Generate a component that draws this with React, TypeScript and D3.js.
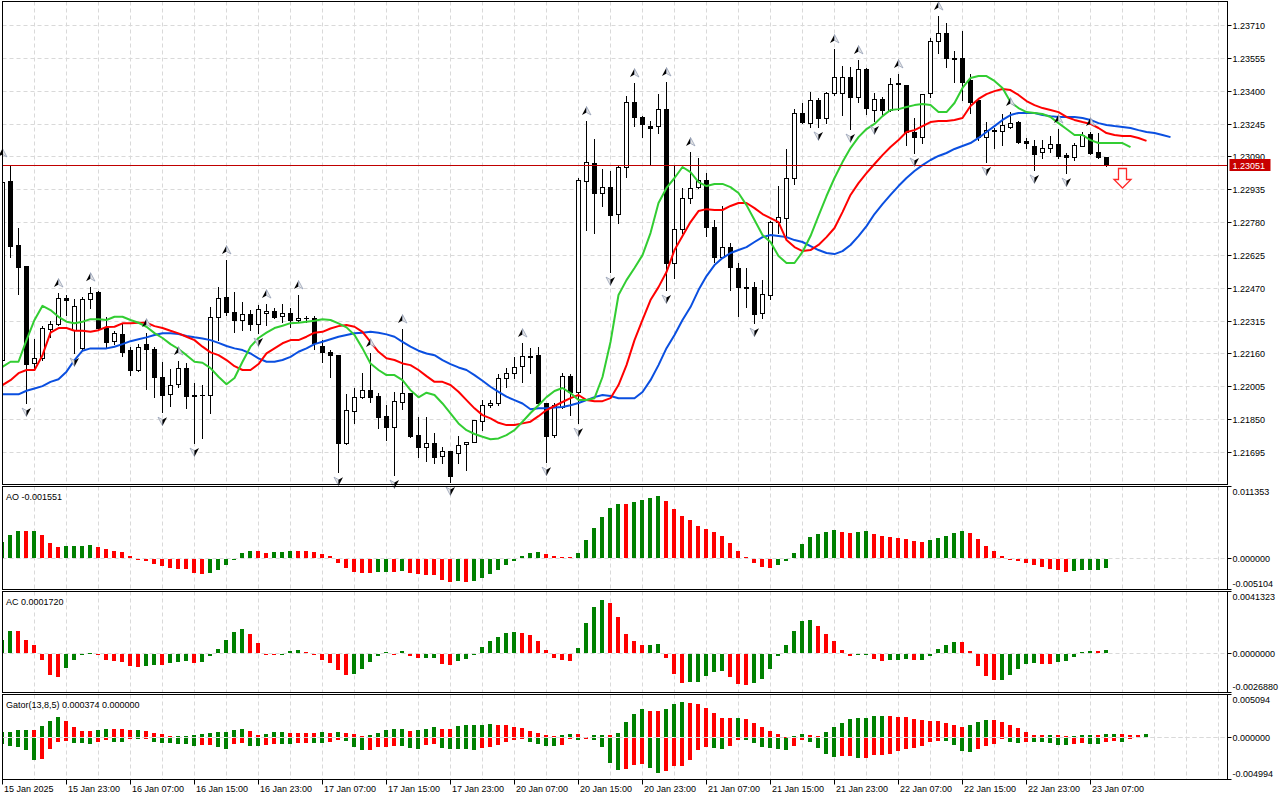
import { useEffect, useRef } from "react";
import * as d3 from "d3";

// EURUSD-style H1 chart, 15 Jan 15:00 .. 23 Jan 09:00, one bar per hour
const timeLabels = [
  "15 Jan 2025", "15 Jan 23:00", "16 Jan 07:00", "16 Jan 15:00", "16 Jan 23:00",
  "17 Jan 07:00", "17 Jan 15:00", "17 Jan 23:00", "20 Jan 07:00", "20 Jan 15:00",
  "20 Jan 23:00", "21 Jan 07:00", "21 Jan 15:00", "21 Jan 23:00", "22 Jan 07:00",
  "22 Jan 15:00", "22 Jan 23:00", "23 Jan 07:00",
];
const barsPerLabel = 8;
const barsPerGrid = 4;

const priceTicks = [
  1.2371, 1.23555, 1.234, 1.23245, 1.2309, 1.22935, 1.2278, 1.22625, 1.2247,
  1.22315, 1.2216, 1.22005, 1.2185, 1.21695,
];
const lastPrice = 1.23051;

const opens = [
  1.22129, 1.22974, 1.22672, 1.22572, 1.22115, 1.22138, 1.22275, 1.22299, 1.22421, 1.2227,
  1.22185, 1.22417, 1.2245, 1.2228, 1.22218, 1.22252, 1.22176, 1.22082, 1.22204, 1.22181,
  1.22049, 1.21968, 1.22015, 1.22091, 1.21964, 1.21964, 1.21964, 1.22332, 1.22426, 1.22355,
  1.22318, 1.22346, 1.22299, 1.22351, 1.2236, 1.22336, 1.22351, 1.22318, 1.22327, 1.22327,
  1.22195, 1.22167, 1.22152, 1.21737, 1.21888, 1.21954, 1.21987, 1.21959, 1.21864, 1.21813,
  1.21931, 1.21973, 1.21775, 1.21718, 1.21737, 1.21676, 1.21699, 1.2169, 1.21732, 1.21742,
  1.21841, 1.21916, 1.21926, 1.22044, 1.22067, 1.221, 1.22148, 1.22152, 1.21926, 1.21775,
  1.21907, 1.22053, 1.21978, 1.22974, 1.23059, 1.22917, 1.22945, 1.22818, 1.2304, 1.23347,
  1.23276, 1.23233, 1.23233, 1.23313, 1.22587, 1.22747, 1.22893, 1.22945, 1.22978, 1.22757,
  1.22615, 1.22662, 1.22563, 1.22473, 1.22473, 1.22351, 1.22436, 1.2278, 1.22799, 1.22988,
  1.23295, 1.23247, 1.23356, 1.23271, 1.23389, 1.23389, 1.23465, 1.2337, 1.23502, 1.23309,
  1.23361, 1.23309, 1.23436, 1.23427, 1.23205, 1.23181, 1.23389, 1.23634, 1.23672, 1.23554,
  1.23554, 1.2345, 1.23356, 1.23181, 1.2321, 1.2321, 1.23229, 1.23252, 1.23163, 1.23139,
  1.23111, 1.23129, 1.23148, 1.23096, 1.23087, 1.23139, 1.23196, 1.23111, 1.23087,
];
const highs = [
  1.23059, 1.23049, 1.22752, 1.22572, 1.22228, 1.22289, 1.22313, 1.22445, 1.22436, 1.22417,
  1.22426, 1.22473, 1.22455, 1.22332, 1.22266, 1.22303, 1.2219, 1.22204, 1.22256, 1.2219,
  1.22119, 1.22086, 1.22124, 1.22115, 1.2202, 1.22011, 1.22379, 1.22473, 1.22601, 1.2245,
  1.22403, 1.22365, 1.22388, 1.22393, 1.22374, 1.22393, 1.22374, 1.22436, 1.22336, 1.22336,
  1.22223, 1.22176, 1.22152, 1.21968, 1.21997, 1.22067, 1.22162, 1.21973, 1.21916, 1.21978,
  1.22275, 1.21973, 1.2186, 1.2186, 1.21784, 1.21718, 1.21699, 1.2177, 1.21742, 1.21846,
  1.2194, 1.2194, 1.22063, 1.22091, 1.22143, 1.22209, 1.22185, 1.2219, 1.21926, 1.21926,
  1.22067, 1.22063, 1.22988, 1.23257, 1.23172, 1.2303, 1.23021, 1.23045, 1.23375, 1.23436,
  1.2328, 1.23257, 1.23384, 1.23441, 1.23045, 1.22941, 1.23111, 1.23082, 1.23011, 1.2279,
  1.22856, 1.22681, 1.22587, 1.22563, 1.22497, 1.22506, 1.22785, 1.2295, 1.23125, 1.23313,
  1.23342, 1.23394, 1.23365, 1.23394, 1.23597, 1.23516, 1.23512, 1.23545, 1.23507, 1.23389,
  1.2337, 1.2346, 1.23479, 1.23427, 1.23271, 1.23384, 1.23649, 1.23752, 1.23719, 1.23587,
  1.23682, 1.23479, 1.23356, 1.23252, 1.23224, 1.2329, 1.23299, 1.23257, 1.23177, 1.23167,
  1.23167, 1.23186, 1.23219, 1.23106, 1.23153, 1.23205, 1.23205, 1.232, 1.23087,
];
const lows = [
  1.22119, 1.22615, 1.2244, 1.21926, 1.22082, 1.22129, 1.22237, 1.22294, 1.22341, 1.22162,
  1.22176, 1.22374, 1.2227, 1.22185, 1.22204, 1.22148, 1.22058, 1.22077, 1.21992, 1.21954,
  1.21883, 1.21912, 1.22001, 1.21902, 1.21737, 1.21761, 1.21879, 1.22223, 1.22341, 1.22261,
  1.2227, 1.2227, 1.22256, 1.22294, 1.22327, 1.22308, 1.22285, 1.22308, 1.22308, 1.22181,
  1.22119, 1.22049, 1.216, 1.21732, 1.21831, 1.21949, 1.21931, 1.21808, 1.21751, 1.21586,
  1.21897, 1.21765, 1.21671, 1.21652, 1.21643, 1.21643, 1.21553, 1.21643, 1.2161, 1.21742,
  1.21798, 1.21907, 1.21916, 1.22001, 1.22044, 1.22025, 1.22067, 1.21921, 1.21647, 1.21765,
  1.21902, 1.21869, 1.21831, 1.22742, 1.22728, 1.22856, 1.22544, 1.22775, 1.22993, 1.23233,
  1.23181, 1.23049, 1.232, 1.22459, 1.22516, 1.22728, 1.2287, 1.22941, 1.22714, 1.22591,
  1.2261, 1.22459, 1.22336, 1.22379, 1.22303, 1.22327, 1.22417, 1.22728, 1.22695, 1.2296,
  1.23247, 1.23229, 1.23229, 1.23247, 1.2338, 1.23285, 1.23219, 1.23347, 1.2329, 1.23257,
  1.23285, 1.23304, 1.23309, 1.23144, 1.23106, 1.23153, 1.2337, 1.23578, 1.23512, 1.23441,
  1.23356, 1.23295, 1.23167, 1.23063, 1.23129, 1.23144, 1.23224, 1.23153, 1.23129, 1.23026,
  1.23082, 1.23111, 1.23082, 1.23011, 1.23073, 1.23139, 1.23101, 1.23082, 1.23045,
];
const closes = [
  1.22969, 1.22667, 1.22568, 1.2211, 1.22138, 1.2228, 1.22299, 1.22421, 1.22412, 1.22384,
  1.22417, 1.22445, 1.2228, 1.22214, 1.22256, 1.22167, 1.22082, 1.2219, 1.22181, 1.22049,
  1.21964, 1.22011, 1.22091, 1.21959, 1.21959, 1.21966, 1.22332, 1.22421, 1.22355, 1.22318,
  1.22346, 1.22299, 1.2237, 1.2236, 1.22332, 1.22351, 1.22318, 1.22327, 1.22325, 1.22209,
  1.22167, 1.22152, 1.21737, 1.21893, 1.21954, 1.21987, 1.21954, 1.2186, 1.21813, 1.21935,
  1.21973, 1.2177, 1.21718, 1.21737, 1.21671, 1.21699, 1.21581, 1.21728, 1.21742, 1.21846,
  1.21916, 1.21926, 1.22044, 1.22067, 1.22096, 1.22148, 1.22143, 1.21926, 1.2177, 1.21916,
  1.22053, 1.21978, 1.22978, 1.23063, 1.22917, 1.22945, 1.22813, 1.2304, 1.23347, 1.23276,
  1.23243, 1.23224, 1.23313, 1.22587, 1.22747, 1.22893, 1.22941, 1.22978, 1.22757, 1.22615,
  1.22662, 1.22568, 1.22473, 1.22471, 1.22346, 1.2244, 1.2278, 1.22804, 1.22988, 1.23295,
  1.23252, 1.23356, 1.23271, 1.23389, 1.23465, 1.23465, 1.2337, 1.23502, 1.23318, 1.23361,
  1.23309, 1.23431, 1.23431, 1.23205, 1.23181, 1.23384, 1.23634, 1.23672, 1.23554, 1.23549,
  1.23441, 1.23347, 1.23181, 1.23214, 1.23214, 1.23238, 1.23247, 1.23158, 1.23153, 1.23101,
  1.23129, 1.23148, 1.23092, 1.23087, 1.23144, 1.23191, 1.23106, 1.23087, 1.23051,
];

// Alligator(13,8,5): already shifted, so they run past the last bar
const jaw = [
  1.21967, 1.21967, 1.21967, 1.21984, 1.21995, 1.22006, 1.22026, 1.22038, 1.22074, 1.22129,
  1.22173, 1.22184, 1.22184, 1.22184, 1.22192, 1.22204, 1.22218, 1.22227, 1.22236, 1.22247,
  1.22255, 1.22255, 1.22252, 1.22242, 1.22236, 1.22231, 1.22223, 1.2221, 1.22195, 1.22184,
  1.22176, 1.2216, 1.22137, 1.22121, 1.22121, 1.22129, 1.22144, 1.22168, 1.22184, 1.22204,
  1.22215, 1.22227, 1.22239, 1.22247, 1.22255, 1.22258, 1.22262, 1.22258, 1.2225, 1.22239,
  1.22215, 1.22192, 1.22173, 1.2216, 1.22152, 1.22129, 1.2211, 1.22094, 1.22082, 1.22058,
  1.22031, 1.22003, 1.21979, 1.21956, 1.2194, 1.21924, 1.21897, 1.21902, 1.21902, 1.21905,
  1.21907, 1.21916, 1.21926, 1.2194, 1.21954, 1.21964, 1.21959, 1.21949, 1.21949, 1.21949,
  1.21978, 1.22034, 1.22105, 1.22185, 1.22247, 1.22318, 1.22379, 1.22459, 1.22525, 1.22577,
  1.2261, 1.22634, 1.22648, 1.22662, 1.22686, 1.22709, 1.22719, 1.22714, 1.22709, 1.22695,
  1.22686, 1.22667, 1.22648, 1.22634, 1.22629, 1.22643, 1.22672, 1.22714, 1.22761, 1.22818,
  1.22865, 1.22908, 1.2295, 1.22988, 1.23021, 1.23049, 1.23073, 1.23092, 1.23106, 1.23125,
  1.23139, 1.23153, 1.23177, 1.23205, 1.23233, 1.23262, 1.23285, 1.23295, 1.23295, 1.23295,
  1.23285, 1.2328, 1.23276, 1.23276, 1.23276, 1.23271, 1.23262, 1.23247, 1.23238, 1.23233,
  1.23229, 1.23224, 1.23214, 1.23205, 1.232, 1.23191, 1.23181,
];
const teeth = [
  1.22011, 1.22034, 1.22067, 1.22082, 1.22082, 1.22152, 1.22258, 1.2228, 1.2228, 1.22267,
  1.22267, 1.22262, 1.2227, 1.22285, 1.22286, 1.22302, 1.22302, 1.22305, 1.22305, 1.22289,
  1.2228, 1.22267, 1.22255, 1.22239, 1.22223, 1.22192, 1.22165, 1.22152, 1.22129, 1.221,
  1.22082, 1.22082, 1.2211, 1.2216, 1.22184, 1.22208, 1.22223, 1.22223, 1.22239, 1.22258,
  1.22262, 1.22278, 1.22289, 1.22294, 1.22286, 1.22262, 1.22215, 1.22168, 1.22137, 1.22129,
  1.22113, 1.22105, 1.22082, 1.22053, 1.22026, 1.22026, 1.22011, 1.21979, 1.2194, 1.21901,
  1.21869, 1.21854, 1.21833, 1.21822, 1.21822, 1.2183, 1.21838, 1.21864, 1.21893, 1.21912,
  1.21931, 1.21949, 1.21964, 1.2194, 1.21935, 1.21935, 1.21949, 1.22011, 1.22105, 1.22223,
  1.22318, 1.22412, 1.22473, 1.22544, 1.22648, 1.22714, 1.2278, 1.22832, 1.22841, 1.22837,
  1.22837, 1.22856, 1.2287, 1.2287, 1.22846, 1.22818, 1.22799, 1.2278, 1.22695, 1.22662,
  1.22643, 1.22648, 1.22672, 1.22709, 1.22752, 1.22827, 1.22908, 1.22964, 1.23011, 1.23054,
  1.23096, 1.23134, 1.23167, 1.23205, 1.23214, 1.23233, 1.23252, 1.23257, 1.23257, 1.23262,
  1.23271, 1.23328, 1.23361, 1.23384, 1.23398, 1.23408, 1.23403, 1.2338, 1.23351, 1.23332,
  1.23318, 1.23309, 1.23299, 1.23276, 1.23262, 1.23252, 1.23243, 1.23224, 1.232, 1.23191,
  1.23186, 1.23186, 1.23177, 1.23163,
];
const lips = [
  1.22097, 1.22121, 1.22121, 1.22223, 1.22318, 1.22385, 1.22365, 1.22333, 1.2231, 1.22303,
  1.2231, 1.22322, 1.22322, 1.22318, 1.22333, 1.22333, 1.22318, 1.22305, 1.22286, 1.22256,
  1.22233, 1.22204, 1.22181, 1.22152, 1.22121, 1.22116, 1.22091, 1.2205, 1.22015, 1.22044,
  1.22121, 1.22192, 1.22233, 1.22258, 1.2228, 1.22291, 1.22303, 1.22305, 1.2231, 1.22314,
  1.22321, 1.22318, 1.22302, 1.22283, 1.22247, 1.22184, 1.22113, 1.22082, 1.22058, 1.22058,
  1.22034, 1.21987, 1.21953, 1.21975, 1.21964, 1.21924, 1.21877, 1.2183, 1.21798, 1.2178,
  1.21767, 1.21755, 1.21759, 1.21775, 1.21798, 1.21838, 1.21879, 1.21916, 1.21954, 1.21983,
  1.21997, 1.21973, 1.2194, 1.2194, 1.21949, 1.22049, 1.22214, 1.22436, 1.22506, 1.22563,
  1.22624, 1.22728, 1.2287, 1.22941, 1.22988, 1.2304, 1.23016, 1.22969, 1.2295, 1.2296,
  1.2296, 1.22945, 1.22917, 1.2286, 1.2279, 1.22719, 1.22686, 1.2262, 1.22587, 1.22587,
  1.22639, 1.22714, 1.22809, 1.22903, 1.22988, 1.23063, 1.23129, 1.23181, 1.23219, 1.23243,
  1.2328, 1.23309, 1.23313, 1.23323, 1.23332, 1.23337, 1.23332, 1.23299, 1.23299, 1.23342,
  1.23413, 1.2346, 1.23469, 1.23469, 1.23446, 1.23413, 1.23347, 1.23318, 1.23299, 1.23295,
  1.2329, 1.23276, 1.23247, 1.23219, 1.23191, 1.23191, 1.23167, 1.23153, 1.23153, 1.23153,
  1.23153, 1.23134,
];

const fractalUp = [0, 7, 11, 18, 22, 28, 33, 37, 46, 50, 65, 73, 79, 83, 86, 104, 107, 112, 117, 126, 132, 136];
const fractalDown = [3, 9, 20, 24, 32, 42, 49, 56, 68, 72, 76, 83, 94, 102, 106, 109, 114, 123, 129, 133];

const signalBar = 140;
const signalPrice = 1.23035;

const ao = [
  0.002608, 0.0037, 0.004352, 0.004303, 0.00434, 0.0037, 0.002396, 0.001744, 0.001907, 0.00194,
  0.001956, 0.001989, 0.001744, 0.001418, 0.001092, 0.000929, 0.000228, -0.000163, -0.000375, -0.000815,
  -0.00119, -0.001516, -0.001728, -0.00176, -0.002282, -0.002494, -0.002282, -0.001842, -0.000978, -0.000163,
  0.000815, 0.001092, 0.00106, 0.000815, 0.000848, 0.000978, 0.001092, 0.001076, 0.00106, 0.000978,
  0.000603, 0.000228, -0.000652, -0.001516, -0.002168, -0.002282, -0.002298, -0.002168, -0.002135, -0.002168,
  -0.002005, -0.002282, -0.002445, -0.002657, -0.002673, -0.003472, -0.003798, -0.003635, -0.003798, -0.003635,
  -0.003146, -0.002494, -0.001842, -0.001027, -0.000326, 0.000277, 0.000717, 0.000929, 0.000603, 0.000277,
  0.000114, 0.000033, 0.000766, 0.002885, 0.004841, 0.006634, 0.008101, 0.008753, 0.008721, 0.009128,
  0.009405, 0.009731, 0.010057, 0.009242, 0.007938, 0.006797, 0.006145, 0.005167, 0.004678, 0.004189,
  0.003537, 0.002396, 0.001092, 0.000163, -0.000652, -0.001304, -0.001483, -0.000978, -0.000326, 0.000766,
  0.002233, 0.003374, 0.003863, 0.004189, 0.004515, 0.004189, 0.004026, 0.004189, 0.004352, 0.003863,
  0.003537, 0.003374, 0.003211, 0.003048, 0.002722, 0.002559, 0.002885, 0.003211, 0.003537, 0.004026,
  0.004352, 0.004026, 0.003048, 0.001907, 0.001092, 0.000277, -0.000033, -0.000326, -0.000701, -0.001027,
  -0.001353, -0.001679, -0.001842, -0.002168, -0.002005, -0.001842, -0.00181, -0.001793, -0.001551,
];
const aoRange = [-0.005104, 0.011353];

const ac = [
  0.000905, 0.001531, 0.001517, 0.000905, 0.000557, -0.000418, -0.001462, -0.001601, -0.000954, -0.000418,
  -0.000049, 0.000021, -0.00007, -0.000418, -0.000487, -0.000557, -0.000835, -0.000905, -0.000835, -0.000766,
  -0.000773, -0.000626, -0.000557, -0.000487, -0.000626, -0.000557, -0.000139, 0.000278, 0.000905, 0.001462,
  0.00167, 0.001322, 0.000696, -0.00007, -0.000077, -0.000049, 0.000139, 0.000188, 0.000049, -0.00007,
  -0.000418, -0.000626, -0.001114, -0.001462, -0.001392, -0.001023, -0.000557, -0.000139, 0.00007, -0.00007,
  0.000139, -0.000139, -0.000278, -0.000271, -0.000264, -0.000696, -0.000766, -0.000487, -0.000348, -0.00007,
  0.000418, 0.000835, 0.001114, 0.001392, 0.001462, 0.001392, 0.001253, 0.000835, 0.000209, -0.000278,
  -0.000418, -0.000487, 0.000348, 0.002088, 0.003202, 0.003619, 0.00341, 0.002506, 0.001322, 0.000835,
  0.000557, 0.000564, 0.000626, -0.000278, -0.001392, -0.002018, -0.001949, -0.001942, -0.001531, -0.001253,
  -0.001183, -0.001601, -0.002088, -0.002158, -0.002018, -0.00174, -0.001044, -0.000118, 0.000557, 0.001531,
  0.002227, 0.002297, 0.001879, 0.001322, 0.000835, 0.000209, -0.000139, -0.000049, -0.000021, -0.000348,
  -0.000487, -0.000432, -0.000418, -0.000348, -0.000418, -0.000411, -0.000139, 0.000278, 0.000557, 0.000766,
  0.000759, 0.000139, -0.000835, -0.001531, -0.00181, -0.001803, -0.001462, -0.001044, -0.000696, -0.000626,
  -0.000696, -0.000703, -0.000557, -0.000487, -0.000209, 0.00007, 0.000153, 0.000139, 0.000172,
];
const acRange = [-0.002688, 0.0041323];

// Gator: upper = |jaw - teeth|, lower = -|teeth - lips|
const gatorUpper = [
  0.000608, 0.000693, 0.000887, 0.000911, 0.000899, 0.001337, 0.001944, 0.00243, 0.001944, 0.001215,
  0.000765, 0.000753, 0.000887, 0.001008, 0.000996, 0.000984, 0.000875, 0.000899, 0.000765, 0.000522,
  0.000401, 0.000158, 0.000182, 0.000194, 0.000243, 0.000401, 0.000522, 0.000644, 0.000656, 0.000887,
  0.001008, 0.000765, 0.000279, 0.000401, 0.000644, 0.000656, 0.000522, 0.00051, 0.000498, 0.000486,
  0.000644, 0.000522, 0.000644, 0.000522, 0.000401, 0.000158, 0.000243, 0.000522, 0.000887, 0.000972,
  0.001008, 0.000765, 0.000887, 0.001008, 0.001251, 0.001008, 0.000996, 0.001373, 0.001494, 0.001507,
  0.001519, 0.001616, 0.001494, 0.001482, 0.001251, 0.00113, 0.000765, 0.000522, 0.000279, 0.000122,
  0.000279, 0.000401, 0.000389, 0.000036, 0.000279, 0.000292, 0.000243, 0.000522, 0.001859, 0.002831,
  0.003438, 0.003195, 0.003183, 0.003438, 0.004046, 0.004289, 0.004167, 0.004046, 0.00356, 0.002952,
  0.002345, 0.002333, 0.002357, 0.002223, 0.001737, 0.001251, 0.000765, 0.000401, 0.000036, 0.000158,
  0.000401, 0.000279, 0.000158, 0.000644, 0.001251, 0.001737, 0.002223, 0.002345, 0.002357, 0.002588,
  0.0026, 0.002588, 0.002466, 0.002454, 0.002223, 0.002102, 0.00198, 0.001968, 0.001737, 0.001494,
  0.001251, 0.001494, 0.001859, 0.002102, 0.00209, 0.001859, 0.001494, 0.00113, 0.000644, 0.000279,
  0.000267, 0.000279, 0.000267, 0.000158, 0.00017, 0.000279, 0.000292, 0.000279, 0.000401, 0.000413,
  0.000401, 0.000279, 0.000267, 0.000374,
];
const gatorLower = [
  -0.000729, -0.000936, -0.000972, -0.001337, -0.002552, -0.00243, -0.001215, -0.000486, -0.000328, -0.000522,
  -0.000535, -0.000644, -0.000401, -0.000243, -0.000401, -0.000413, -0.000061, -0.000122, -0.000097, -0.000401,
  -0.000522, -0.000535, -0.000644, -0.000656, -0.000887, -0.000765, -0.000753, -0.001008, -0.001251, -0.000644,
  -0.000522, -0.000887, -0.000899, -0.000765, -0.000644, -0.000656, -0.000668, -0.000522, -0.00051, -0.000522,
  -0.000535, -0.000401, -0.000158, -0.000328, -0.001008, -0.001373, -0.001361, -0.001008, -0.000996, -0.000936,
  -0.000948, -0.00113, -0.001251, -0.000765, -0.000644, -0.00113, -0.001251, -0.001264, -0.001276, -0.001373,
  -0.00113, -0.001008, -0.000765, -0.000401, -0.000207, -0.000122, -0.000401, -0.000644, -0.000887, -0.000899,
  -0.000765, -0.000122, -0.000207, -0.000085, -0.000207, -0.001008, -0.002916, -0.003767, -0.003645, -0.003159,
  -0.003038, -0.00356, -0.004167, -0.003924, -0.003317, -0.003305, -0.002588, -0.001373, -0.001008, -0.00113,
  -0.001251, -0.000887, -0.000207, -0.000219, -0.000522, -0.001008, -0.00113, -0.001251, -0.001373, -0.000887,
  -0.000158, -0.000401, -0.00113, -0.001859, -0.002223, -0.002102, -0.00209, -0.002345, -0.002333, -0.00198,
  -0.001968, -0.001859, -0.001494, -0.001251, -0.00113, -0.000887, -0.000401, -0.000279, -0.000292, -0.000765,
  -0.001494, -0.001616, -0.001251, -0.000887, -0.000644, -0.000122, -0.000401, -0.000522, -0.000401, -0.000413,
  -0.000425, -0.000522, -0.000765, -0.000778, -0.000644, -0.000522, -0.000644, -0.000656, -0.000401, -0.000279,
  -0.000401, -0.000122,
];
const gatorRange = [-0.004994, 0.005094];

const FONT = "'Liberation Sans', Arial, sans-serif";
const FONT_SIZE = 9;
const GREEN = "#008000";
const RED = "#ff0000";
const GRID = "#d9d9d9";

const LEFT = 2.5;
const RIGHT = 1227.5;
const panels = {
  main: { top: 1.5, bottom: 484.5 },
  ao: { top: 486.5, bottom: 589.5 },
  ac: { top: 591.5, bottom: 692.5 },
  gator: { top: 694.5, bottom: 779.5 },
};

type Sel = d3.Selection<SVGGElement, unknown, null, undefined>;

// green when rising vs previous bar, red when falling, unchanged keeps colour
function trendColors(values: number[], byMagnitude = false) {
  const out: string[] = [];
  values.forEach((v, i) => {
    if (i === 0) return out.push(GREEN);
    const a = byMagnitude ? Math.abs(v) : v;
    const b = byMagnitude ? Math.abs(values[i - 1]) : values[i - 1];
    out.push(a > b ? GREEN : a < b ? RED : out[i - 1]);
  });
  return out;
}

function draw(svgEl: SVGSVGElement) {
  const svg = d3.select(svgEl);
  svg.selectAll("*").remove();
  svg.append("rect").attr("width", 1280).attr("height", 800).attr("fill", "#fff");

  const x = d3.scaleLinear().domain([0, closes.length - 1]).range([2.5, 2.5 + 8 * (closes.length - 1)]);
  const y = d3
    .scaleLinear()
    .domain([priceTicks[priceTicks.length - 1], priceTicks[0]])
    .range([452, 25]);
  const aoY = d3.scaleLinear().domain(aoRange).range([589, 488]);
  const acY = d3.scaleLinear().domain(acRange).range([692, 593]);
  const gY = d3.scaleLinear().domain(gatorRange).range([779, 695]);

  const defs = svg.append("defs");
  Object.entries(panels).forEach(([name, p]) => {
    defs
      .append("clipPath")
      .attr("id", `clip-${name}`)
      .append("rect")
      .attr("x", LEFT + 0.5)
      .attr("y", p.top + 0.5)
      .attr("width", RIGHT - LEFT - 1)
      .attr("height", p.bottom - p.top - 1);
  });

  const layer = (name: string): Sel =>
    svg.append("g").attr("clip-path", `url(#clip-${name})`) as unknown as Sel;

  // vertical grid every 4 bars, through all panels
  const gridBars = d3.range(barsPerGrid, 200, barsPerGrid).filter((b) => x(b) < RIGHT - 1);
  Object.entries(panels).forEach(([name, p]) => {
    const g = layer(name);
    g.selectAll("line.vg")
      .data(gridBars)
      .join("line")
      .attr("x1", (b) => x(b))
      .attr("x2", (b) => x(b))
      .attr("y1", p.top)
      .attr("y2", p.bottom)
      .attr("stroke", GRID)
      .attr("stroke-dasharray", "4,3");
  });

  // ---------- main panel ----------
  const main = layer("main");
  main
    .selectAll("line.hg")
    .data(priceTicks)
    .join("line")
    .attr("x1", LEFT)
    .attr("x2", RIGHT)
    .attr("y1", (d) => Math.round(y(d)) + 0.5)
    .attr("y2", (d) => Math.round(y(d)) + 0.5)
    .attr("stroke", GRID)
    .attr("stroke-dasharray", "4,3");

  const bars = closes.map((c, i) => ({ i, o: opens[i], h: highs[i], l: lows[i], c }));
  const candles = main.append("g");
  bars.forEach((b) => {
    const cx = x(b.i);
    const yO = Math.round(y(b.o));
    const yC = Math.round(y(b.c));
    const yH = Math.round(y(b.h));
    const yL = Math.round(y(b.l));
    const top = Math.min(yO, yC);
    const bot = Math.max(yO, yC);
    candles
      .append("line")
      .attr("x1", cx)
      .attr("x2", cx)
      .attr("y1", yH)
      .attr("y2", yL + 1)
      .attr("stroke", "#000");
    if (bot - top < 1) {
      candles
        .append("line")
        .attr("x1", cx - 2.5)
        .attr("x2", cx + 2.5)
        .attr("y1", top + 0.5)
        .attr("y2", top + 0.5)
        .attr("stroke", "#000");
    } else if (b.c < b.o) {
      candles
        .append("rect")
        .attr("x", cx - 2.5)
        .attr("y", top)
        .attr("width", 5)
        .attr("height", bot - top + 1)
        .attr("fill", "#000");
    } else {
      candles
        .append("rect")
        .attr("x", cx - 2)
        .attr("y", top + 0.5)
        .attr("width", 4)
        .attr("height", bot - top)
        .attr("fill", "#fff")
        .attr("stroke", "#000");
    }
  });

  const line = d3
    .line<number>()
    .x((_, i) => x(i))
    .y((d) => y(d));
  [
    { data: jaw, color: "#0a4fe0" },
    { data: teeth, color: "#ff0000" },
    { data: lips, color: "#32cd32" },
  ].forEach((s) => {
    main
      .append("path")
      .attr("d", line(s.data))
      .attr("fill", "none")
      .attr("stroke", s.color)
      .attr("stroke-width", 2)
      .attr("stroke-linejoin", "round");
  });

  // bid line
  const yLast = Math.round(y(lastPrice)) + 0.5;
  main
    .append("line")
    .attr("x1", LEFT)
    .attr("x2", RIGHT)
    .attr("y1", yLast)
    .attr("y2", yLast)
    .attr("stroke", "#c00000");

  // fractal markers
  const fr = svg.append("g");
  fractalUp.forEach((i) => {
    const cx = x(i);
    const cy = y(highs[i]) - 10;
    fr.append("path")
      .attr("d", `M${cx},${cy - 4.5}L${cx - 4.5},${cy + 4}L${cx},${cy + 1.5}Z`)
      .attr("fill", "#000");
    fr.append("path")
      .attr("d", `M${cx},${cy - 4.5}L${cx},${cy + 1.5}L${cx + 4.5},${cy + 4}Z`)
      .attr("fill", "#e4e4e4")
      .attr("stroke", "#8c98b0")
      .attr("stroke-width", 0.7);
  });
  fractalDown.forEach((i) => {
    const cx = x(i);
    const cy = y(lows[i]) + 9;
    fr.append("path")
      .attr("d", `M${cx},${cy + 4.5}L${cx - 4.5},${cy - 4}L${cx},${cy - 1.5}Z`)
      .attr("fill", "#e4e4e4")
      .attr("stroke", "#8c98b0")
      .attr("stroke-width", 0.7);
    fr.append("path")
      .attr("d", `M${cx},${cy + 4.5}L${cx},${cy - 1.5}L${cx + 4.5},${cy - 4}Z`)
      .attr("fill", "#000");
  });

  // sell signal arrow
  {
    const cx = x(signalBar);
    const t = Math.round(y(signalPrice)) + 0.5;
    svg
      .append("path")
      .attr(
        "d",
        `M${cx - 4},${t}L${cx + 4},${t}L${cx + 4},${t + 11}L${cx + 8.5},${t + 11}L${cx},${t + 19.5}L${cx - 8.5},${t + 11}L${cx - 4},${t + 11}Z`
      )
      .attr("fill", "#fff")
      .attr("stroke", "#ff2a2a")
      .attr("stroke-width", 1.3)
      .attr("stroke-linejoin", "miter");
  }

  // ---------- sub panels ----------
  const hist = (
    g: Sel,
    values: number[],
    scale: d3.ScaleLinear<number, number>,
    colors: string[]
  ) => {
    const y0 = Math.round(scale(0));
    g.append("line")
      .attr("x1", LEFT)
      .attr("x2", RIGHT)
      .attr("y1", y0 + 0.5)
      .attr("y2", y0 + 0.5)
      .attr("stroke", GRID)
      .attr("stroke-dasharray", "4,3");
    g.selectAll(null)
      .data(values)
      .join("rect")
      .attr("x", (_, i) => x(i) - 2.5)
      .attr("width", 4)
      .attr("y", (d) => (d >= 0 ? Math.min(Math.round(scale(d)), y0) : y0 + 1))
      .attr("height", (d) => Math.max(1, Math.abs(Math.round(scale(d)) - y0)))
      .attr("fill", (_, i) => colors[i]);
  };

  hist(layer("ao"), ao, aoY, trendColors(ao));
  hist(layer("ac"), ac, acY, trendColors(ac));
  const gl = layer("gator");
  hist(gl, gatorUpper, gY, trendColors(gatorUpper));
  hist(gl, gatorLower, gY, trendColors(gatorLower, true));

  // ---------- frames ----------
  Object.values(panels).forEach((p) => {
    svg
      .append("rect")
      .attr("x", LEFT)
      .attr("y", p.top)
      .attr("width", RIGHT - LEFT)
      .attr("height", p.bottom - p.top)
      .attr("fill", "none")
      .attr("stroke", "#000");
  });

  const text = (tx: number, ty: number, s: string, fill = "#000") =>
    svg
      .append("text")
      .attr("x", tx)
      .attr("y", ty)
      .attr("dominant-baseline", "central")
      .attr("font-family", FONT)
      .attr("font-size", FONT_SIZE)
      .attr("fill", fill)
      .text(s);

  // price axis
  priceTicks.forEach((p) => {
    const ty = Math.round(y(p)) + 0.5;
    svg.append("line").attr("x1", RIGHT).attr("x2", RIGHT + 4).attr("y1", ty).attr("y2", ty).attr("stroke", "#000");
    text(RIGHT + 5, ty, p.toFixed(5));
  });
  svg
    .append("rect")
    .attr("x", RIGHT + 2)
    .attr("y", yLast - 6.5)
    .attr("width", 41)
    .attr("height", 12)
    .attr("fill", "#c80000");
  text(RIGHT + 5, yLast, lastPrice.toFixed(5), "#fff");

  // sub panel axes and titles
  const subAxis = (
    p: { top: number; bottom: number },
    scale: d3.ScaleLinear<number, number>,
    range: number[],
    digits: number,
    title: string
  ) => {
    const y0 = Math.round(scale(0)) + 0.5;
    [p.top, y0, p.bottom].forEach((ty) =>
      svg.append("line").attr("x1", RIGHT).attr("x2", RIGHT + 4).attr("y1", ty).attr("y2", ty).attr("stroke", "#000")
    );
    text(RIGHT + 5, p.top + 5.5, range[1].toFixed(digits));
    text(RIGHT + 5, y0, (0).toFixed(digits));
    text(RIGHT + 5, p.bottom - 5.5, range[0].toFixed(digits));
    text(6, p.top + 10, title);
  };
  subAxis(panels.ao, aoY, aoRange, 6, `AO ${ao[ao.length - 1].toFixed(6)}`);
  subAxis(panels.ac, acY, acRange, 7, `AC ${ac[ac.length - 1].toFixed(7)}`);
  const gLowerLast = gatorLower.length === gatorUpper.length ? gatorLower[gatorLower.length - 1] : 0;
  subAxis(
    panels.gator,
    gY,
    gatorRange,
    6,
    `Gator(13,8,5) ${gatorUpper[gatorUpper.length - 1].toFixed(6)} ${Math.abs(gLowerLast).toFixed(6)}`
  );

  // time axis
  timeLabels.forEach((label, k) => {
    const tx = x(k * barsPerLabel);
    const b = panels.gator.bottom;
    svg.append("line").attr("x1", tx).attr("x2", tx).attr("y1", b).attr("y2", b + 5).attr("stroke", "#000");
    text(tx + 1.5, b + 9, label);
  });
}

export default function App() {
  const svgRef = useRef<SVGSVGElement | null>(null);

  useEffect(() => {
    if (svgRef.current) draw(svgRef.current);
  }, []);

  return (
    <svg
      ref={svgRef}
      width={1280}
      height={800}
      style={{ position: "absolute", left: 0, top: 0, display: "block" }}
    />
  );
}
